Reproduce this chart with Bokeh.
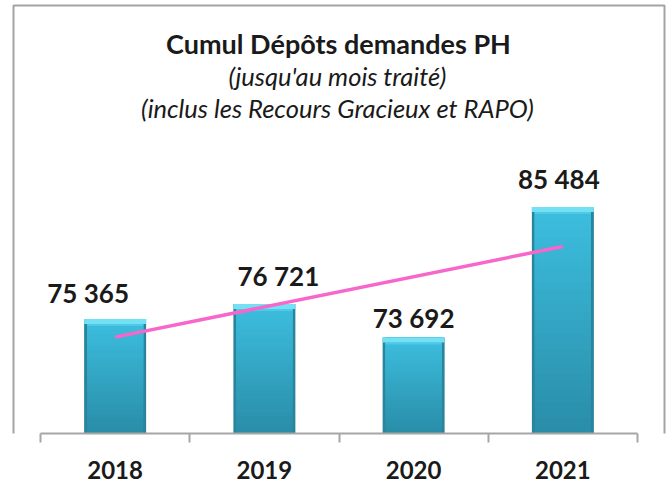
import numpy as np
from bokeh.plotting import figure
from bokeh.models import ColumnDataSource, Range1d, FixedTicker, Label, BoxAnnotation
from bokeh.core.properties import value
from bokeh.embed import file_html
from bokeh.resources import INLINE

# ---- data ----
years = ["2018", "2019", "2020", "2021"]
counts = [75365, 76721, 73692, 85484]
title_text = "Cumul Dépôts demandes PH"
subtitle1 = "(jusqu'au mois traité)"
subtitle2 = "(inclus les Recours Gracieux et RAPO)"
axis_min = 65000

# ---- styling (pixel offsets of the value labels) ----
label_dx = [-27, 14, 0, -4]
label_dy = [-26, -28, -19, -28]

W, H = 666, 498
axis_y = 433           # pixel row of the category axis
px_x = 149.25          # pixels per category
px_y = 90.44           # value units per pixel
x_start = -40 / px_x
x_end = x_start + W / px_x
y_end = axis_min + axis_y * px_y

def fx(px):
    return x_start + px / px_x

def fy(py):
    return y_end - py * px_y

p = figure(width=W, height=H, output_backend="svg", toolbar_location=None,
           x_range=Range1d(x_start, x_end), y_range=Range1d(axis_min, y_end),
           y_axis_location=None, min_border_left=0, min_border_right=0,
           min_border_top=0, min_border_bottom=H - axis_y)
p.grid.visible = False
p.outline_line_color = None
p.background_fill_color = "white"
p.border_fill_color = "white"

n = len(years)
xs = [i + 0.5 for i in range(n)]
bar_w = 62 / px_x
inner_w = 56 / px_x

# outer darker bar (edges)
p.vbar(x=xs, top=counts, bottom=axis_min, width=bar_w,
       fill_color="#2a859c", line_color=None)

# vertical gradient: stacked overlapping layers, bottom colour first
N = 30
c_bot = np.array([0x2a, 0x8e, 0xa9])
c_top = np.array([0x3d, 0xbe, 0xdf])
sx, sb, st, sc = [], [], [], []
for k in range(N):
    t = k / (N - 1)
    c = (c_bot + (c_top - c_bot) * t).astype(int)
    for i, v in enumerate(counts):
        sx.append(xs[i])
        sb.append(axis_min + (v - axis_min) * k / N)
        st.append(v)
        sc.append("#%02x%02x%02x" % tuple(c))
p.vbar(x=sx, top=st, bottom=sb, width=inner_w, fill_color=sc, line_color=None)

# top bevel highlight
bev = 5 * px_y
p.vbar(x=xs, top=counts, bottom=[v - bev for v in counts], width=bar_w,
       fill_color="#74e0f3", line_color=None)
p.vbar(x=xs, top=[v - bev for v in counts], bottom=[v - bev - 2 * px_y for v in counts],
       width=inner_w, fill_color="#4ccae7", line_color=None)

# trend line (linear regression)
coef = np.polyfit(np.arange(n), counts, 1)
tx = [xs[0], xs[-1]]
ty = [coef[1], coef[1] + coef[0] * (n - 1)]
p.line(x=tx, y=ty, line_color="#f766cb", line_width=3.5)

# value labels
src = ColumnDataSource(dict(
    x=xs, y=counts,
    txt=[f"{v:,}".replace(",", " ") for v in counts],
    dx=label_dx, dy=label_dy))
p.text(x="x", y="y", text="txt", source=src, x_offset="dx", y_offset="dy",
       text_font=value("Lato"), text_font_style="bold", text_font_size="26px",
       text_color="#1a1a1a", text_align="center", text_baseline="alphabetic")

# titles
p.add_layout(Label(x=fx(338), y=fy(43), text=title_text, text_font="Lato",
                   text_font_style="bold", text_font_size="27px", text_color="#1a1a1a",
                   text_align="center", text_baseline="middle"))
p.add_layout(Label(x=fx(337), y=fy(75), text=subtitle1, text_font="Lato",
                   text_font_style="italic", text_font_size="25.5px", text_color="#1a1a1a",
                   text_align="center", text_baseline="middle"))
p.add_layout(Label(x=fx(337), y=fy(107), text=subtitle2, text_font="Lato",
                   text_font_style="italic", text_font_size="25.5px", text_color="#1a1a1a",
                   text_align="center", text_baseline="middle"))

# chart border (canvas units)
p.add_layout(BoxAnnotation(left=13, right=664, top=5, bottom=H + 20,
                           left_units="canvas", right_units="canvas",
                           top_units="canvas", bottom_units="canvas",
                           fill_color=None, fill_alpha=0, line_color="#a3a3a3",
                           line_width=2, line_alpha=1))

# x axis with boundary ticks
ax = p.xaxis[0]
ax.ticker = FixedTicker(ticks=xs, minor_ticks=list(range(n + 1)))
ax.major_label_overrides = {x: y for x, y in zip(xs, years)}
ax.bounds = (0, n)
ax.axis_line_color = "#a6a6a6"
ax.axis_line_width = 2
ax.major_tick_line_color = None
ax.major_tick_out = 9
ax.major_tick_in = 0
ax.minor_tick_line_color = "#a6a6a6"
ax.minor_tick_line_width = 2
ax.minor_tick_out = 9
ax.minor_tick_in = 0
ax.major_label_text_font = "Lato"
ax.major_label_text_font_style = "bold"
ax.major_label_text_font_size = "24px"
ax.major_label_text_color = "#1a1a1a"
ax.major_label_standoff = 18

open("out.html", "w").write(file_html(p, INLINE))
